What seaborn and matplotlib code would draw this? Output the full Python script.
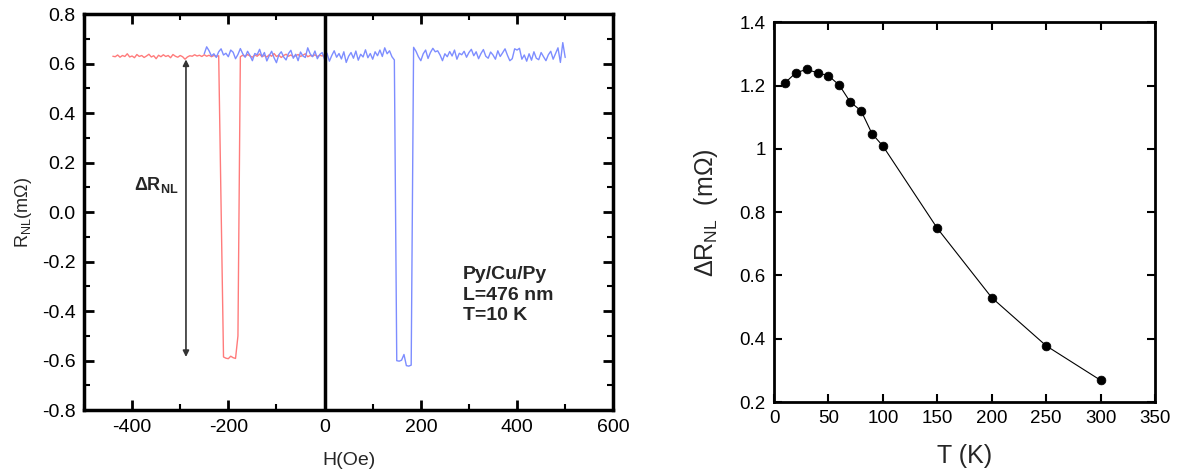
import matplotlib
matplotlib.use("Agg")
import matplotlib.pyplot as plt
from matplotlib.ticker import MultipleLocator, FormatStrFormatter
import numpy as np
import pandas as pd
import seaborn as sns

sns.set_style("ticks")
plt.rcParams['font.family'] = ['Liberation Sans', 'DejaVu Sans']
plt.rcParams['mathtext.fontset'] = 'custom'
plt.rcParams['mathtext.rm'] = 'Liberation Sans'
plt.rcParams['mathtext.it'] = 'Liberation Sans:italic'
plt.rcParams['mathtext.bf'] = 'Liberation Sans:bold'

# left panel: non-local resistance vs field (sweep in 5 Oe steps)
h_red = np.arange(-440, 1, 5)
r_red = [0.630, 0.628, 0.635, 0.626, 0.633, 0.629, 0.640, 0.627, 0.631, 0.624,
         0.637, 0.629, 0.633, 0.625, 0.631, 0.638, 0.627, 0.632, 0.620, 0.634,
         0.628, 0.636, 0.629, 0.633, 0.624, 0.637, 0.630, 0.626, 0.633, 0.628,
         0.618, 0.627, 0.632, 0.630, 0.636, 0.631, 0.634, 0.629, 0.636, 0.630,
         0.634, 0.628, 0.633, 0.630,
         0.632, 0.020,
         -0.585, -0.590, -0.592, -0.582, -0.588, -0.591, -0.500,
         0.628,
         0.634, 0.629, 0.637, 0.631, 0.626, 0.635, 0.630, 0.639, 0.628, 0.633,
         0.627, 0.636, 0.630, 0.641, 0.629, 0.634, 0.625, 0.633, 0.638, 0.630,
         0.635, 0.628, 0.632, 0.637, 0.629, 0.634, 0.640, 0.628, 0.633, 0.630,
         0.636, 0.629, 0.634, 0.631, 0.635]

h_blue = np.arange(-250, 501, 5)
r_blue = [0.640, 0.668, 0.652, 0.631, 0.640, 0.625, 0.648, 0.660, 0.635, 0.642,
          0.628, 0.655, 0.646, 0.620, 0.637, 0.661, 0.640, 0.626, 0.650, 0.633,
          0.612, 0.641, 0.636, 0.658, 0.628, 0.645, 0.611, 0.632, 0.650, 0.624,
          0.604, 0.636, 0.648, 0.627, 0.615, 0.641, 0.654, 0.622, 0.638, 0.612,
          0.647, 0.631, 0.625, 0.664, 0.640, 0.628, 0.651, 0.620, 0.637, 0.645,
          0.618, 0.642, 0.610, 0.633, 0.652, 0.626, 0.641, 0.619, 0.648, 0.605,
          0.630, 0.645, 0.622, 0.651, 0.614, 0.638, 0.627, 0.656, 0.624, 0.641,
          0.618, 0.648, 0.632, 0.655, 0.629, 0.664, 0.640, 0.652, 0.628, 0.615,
          -0.600, -0.602, -0.598, -0.575, -0.620, -0.622, -0.618,
          0.666,
          0.650, 0.628, 0.612, 0.640, 0.655, 0.621, 0.645, 0.662, 0.648, 0.652,
          0.635, 0.612, 0.640, 0.628, 0.649, 0.631, 0.655, 0.618, 0.642, 0.636,
          0.650, 0.626, 0.645, 0.658, 0.632, 0.648, 0.620, 0.641, 0.657, 0.630,
          0.622, 0.647, 0.635, 0.618, 0.652, 0.629, 0.644, 0.660, 0.634, 0.612,
          0.620, 0.660, 0.655, 0.662, 0.618, 0.635, 0.610, 0.640, 0.614, 0.648,
          0.622, 0.616, 0.645, 0.628, 0.612, 0.636, 0.650, 0.618, 0.641, 0.664,
          0.605, 0.685, 0.625]

# right panel: spin signal vs temperature
temps = [10, 20, 30, 40, 50, 60, 70, 80, 90, 100, 150, 200, 250, 300]
delta_r = [1.208, 1.240, 1.251, 1.240, 1.231, 1.201, 1.148, 1.120, 1.048, 1.009,
           0.749, 0.530, 0.378, 0.269]

df_red = pd.DataFrame({"H": h_red, "R": r_red})
df_blue = pd.DataFrame({"H": h_blue, "R": r_blue})
df_t = pd.DataFrame({"T": temps, "dR": delta_r})

fig = plt.figure(figsize=(11.79, 4.72), dpi=100)
ax1 = fig.add_axes([0.0712, 0.131, 0.449, 0.839])
ax2 = fig.add_axes([0.6565, 0.148, 0.3232, 0.805])

"""
Left panel
"""
sns.lineplot(data=df_red, x="H", y="R", ax=ax1, color="#ff7b7b", lw=1.0, estimator=None)
sns.lineplot(data=df_blue, x="H", y="R", ax=ax1, color="#7d8dff", lw=1.0, estimator=None)
ax1.axvline(0, color="black", lw=2.5)
ax1.annotate("", xy=(-288, -0.585), xytext=(-288, 0.617),
             arrowprops=dict(arrowstyle="<|-|>", color="#333333", lw=1.2, mutation_scale=9,
                             shrinkA=0, shrinkB=0))
ax1.text(-395, 0.11, r"$\mathbf{\Delta R_{NL}}$", fontsize=13, ha="left", va="center")
ax1.text(288, -0.335, "Py/Cu/Py\nL=476 nm\nT=10 K", fontsize=14, fontweight="bold",
         ha="left", va="center", linespacing=1.25)

ax1.set_xlim(-500, 600)
ax1.set_ylim(-0.8, 0.8)
ax1.xaxis.set_major_locator(MultipleLocator(200))
ax1.xaxis.set_minor_locator(MultipleLocator(100))
ax1.yaxis.set_major_locator(MultipleLocator(0.2))
ax1.yaxis.set_minor_locator(MultipleLocator(0.1))
ax1.xaxis.set_major_formatter(FormatStrFormatter("%d"))
ax1.yaxis.set_major_formatter(FormatStrFormatter("%.1f"))
ax1.tick_params(which="both", direction="in", top=True, right=True, labelsize=14, colors="black")
ax1.tick_params(which="major", length=7, width=2, pad=6)
ax1.tick_params(which="minor", length=4, width=1.5)
for s in ax1.spines.values():
    s.set_linewidth(2.5)
    s.set_color("black")
ax1.set_xlabel("H(Oe)", fontsize=14, labelpad=12)
ax1.set_ylabel(r"R$_{\rm NL}$(m$\Omega$)", fontsize=13, labelpad=6)

"""
Right panel
"""
sns.lineplot(data=df_t, x="T", y="dR", ax=ax2, color="black", lw=0.8, estimator=None)
sns.scatterplot(data=df_t, x="T", y="dR", ax=ax2, color="black", s=40, edgecolor="black", zorder=3)
ax2.set_xlim(0, 350)
ax2.set_ylim(0.2, 1.4)
ax2.xaxis.set_major_locator(MultipleLocator(50))
ax2.yaxis.set_major_locator(MultipleLocator(0.2))
ax2.yaxis.set_major_formatter(FormatStrFormatter("%g"))
ax2.tick_params(direction="in", top=True, right=True, length=6, width=1.5, labelsize=13.5, pad=6,
                colors="black")
for s in ax2.spines.values():
    s.set_linewidth(2)
    s.set_color("black")
ax2.set_xlabel("T (K)", fontsize=18, labelpad=12)
ax2.set_ylabel(r"$\Delta$R$_{\rm NL}$  (m$\Omega$)", fontsize=18, labelpad=14)

fig.savefig("out.png", dpi=100, facecolor="white")
